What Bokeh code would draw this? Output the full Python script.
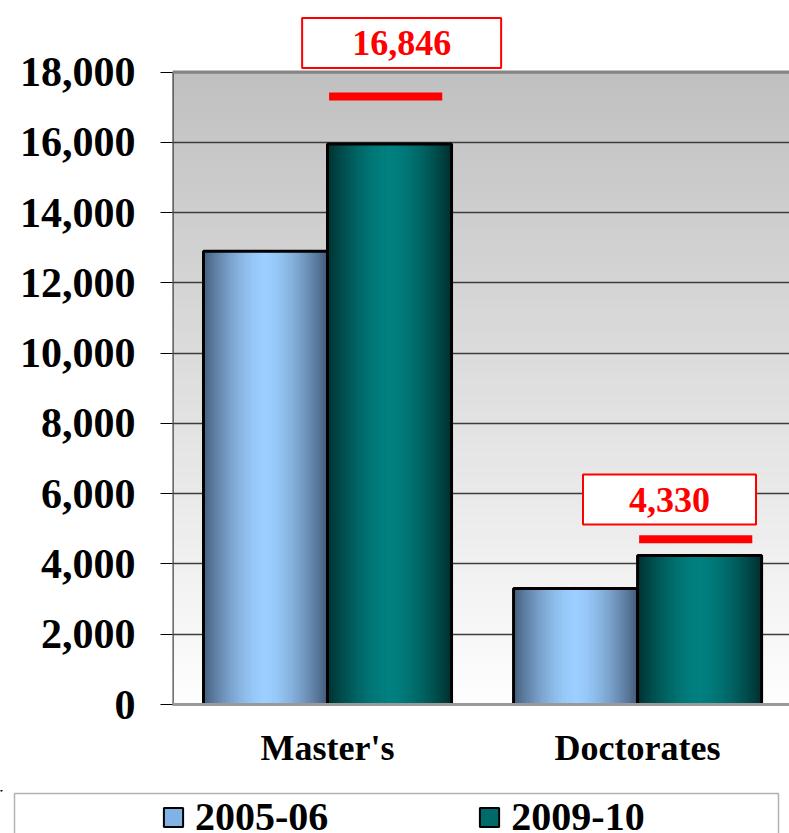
import numpy as np
from bokeh.plotting import figure
from bokeh.models import (Range1d, FixedTicker, NumeralTickFormatter, Span, Label,
                          Legend, LegendItem, BoxAnnotation)
from bokeh.embed import file_html
from bokeh.resources import INLINE

# ---------------- data ----------------
categories = ["Master's", "Doctorates"]
years = ["2005-06", "2009-10"]
values_2005_06 = [12900, 3300]
values_2009_10 = [15950, 4240]
target_markers = [17300, 4700]
target_labels = ["16,846", "4,330"]
y_ticks = [0, 2000, 4000, 6000, 8000, 10000, 12000, 14000, 16000, 18000]

# ---------------- layout / style ----------------
FONT = "Liberation Serif"
BAR_W = 0.4
OFFSETS = [-0.2, 0.2]
Y_TOP = 18000
label_pos = [(0.239, 18825), (1.103, 5834)]
label_pad = [(50, 13), (46, 13)]


def mix(c1, c2, t):
    return "#%02x%02x%02x" % tuple(int(round(a + (b - a) * t)) for a, b in zip(c1, c2))


def bar_colour(edge, peak, t):
    d = abs(t - 0.5) / 0.5
    f = max(0.0, 1 - d ** 1.6)
    return mix(edge, peak, f)


grad = {
    0: ((0x45, 0x5c, 0x7c), (0x9c, 0xcf, 0xff)),
    1: ((0x00, 0x30, 0x30), (0x00, 0x80, 0x80)),
}
mid_cols = ["#82b2e4", "#006a6a"]

p = figure(width=789, height=790, x_range=Range1d(-0.5, 1.49), y_range=Range1d(0, 20035),
           output_backend="svg", toolbar_location=None,
           min_border_left=172, min_border_right=0, min_border_top=0, min_border_bottom=86)
p.outline_line_color = None
p.background_fill_color = "white"
p.border_fill_color = "white"

# gradient background of the plot area (up to the top tick)
n_bg = 80
edges = np.linspace(0, Y_TOP, n_bg + 1)
bg_cols = [mix((0xfe, 0xfe, 0xfe), (0xc0, 0xc0, 0xc0), (e0 + e1) / 2 / Y_TOP)
           for e0, e1 in zip(edges[:-1], edges[1:])]
bg = p.quad(left=p.x_range.start, right=p.x_range.end, bottom=edges[:-1], top=edges[1:],
            fill_color=bg_cols, line_color=bg_cols, line_width=1)
bg.level = "image"

# bars: horizontal gradient strips + outline
N = 62
series = [values_2005_06, values_2009_10]
for s, vals in enumerate(series):
    xs_c = [i + OFFSETS[s] for i in range(len(vals))]
    edge, peak = grad[s]
    for i, v in enumerate(vals):
        c = xs_c[i]
        xs = np.linspace(c - BAR_W / 2, c + BAR_W / 2, N + 1)
        cols = [bar_colour(edge, peak, (k + 0.5) / N) for k in range(N)]
        p.quad(left=xs[:-1], right=xs[1:], bottom=0, top=v, fill_color=cols,
               line_color=cols, line_width=1.2)
    p.vbar(x=xs_c, width=BAR_W, top=vals, bottom=0,
           fill_color=None, line_color="black", line_width=3)

# target markers
p.segment(x0=[i + 0.005 for i in range(len(categories))], y0=target_markers,
          x1=[i + 0.37 for i in range(len(categories))], y1=target_markers,
          line_color="#ff0000", line_width=8)

for (lx, ly), txt, pad in zip(label_pos, target_labels, label_pad):
    p.add_layout(Label(x=lx, y=ly, text=txt, text_align="center", text_baseline="middle",
                       text_color="#ff0000", text_font=FONT, text_font_style="bold",
                       text_font_size="36px", border_line_color="#ff0000", border_line_width=2,
                       background_fill_color="white", padding=pad))

# top border of plot area and left axis line (only up to the top tick)
p.add_layout(Span(location=Y_TOP, dimension="width", line_color="#858585", line_width=3))
p.segment(x0=[p.x_range.start], y0=[0], x1=[p.x_range.start], y1=[Y_TOP],
          line_color="#444444", line_width=2.5)

# grid
p.xgrid.visible = False
p.ygrid.grid_line_color = "#3c3c3c"
p.ygrid.grid_line_width = 1.3

# y axis
p.yaxis.ticker = FixedTicker(ticks=y_ticks)
p.yaxis.formatter = NumeralTickFormatter(format="0,0")
p.yaxis.major_label_text_font = FONT
p.yaxis.major_label_text_font_style = "bold"
p.yaxis.major_label_text_font_size = "42px"
p.yaxis.major_label_text_color = "black"
p.yaxis.major_tick_out = 12
p.yaxis.major_tick_in = 0
p.yaxis.minor_tick_line_color = None
p.yaxis.major_tick_line_color = "black"
p.yaxis.axis_line_color = None
p.yaxis.major_label_standoff = 25

# x axis
p.xaxis.ticker = FixedTicker(ticks=list(range(len(categories))))
p.xaxis.major_label_overrides = {i: c for i, c in enumerate(categories)}
p.xaxis.major_label_text_font = FONT
p.xaxis.major_label_text_font_style = "bold"
p.xaxis.major_label_text_font_size = "36px"
p.xaxis.major_label_text_color = "black"
p.xaxis.major_tick_line_color = None
p.xaxis.minor_tick_line_color = None
p.xaxis.axis_line_color = "#9a9a9a"
p.xaxis.axis_line_width = 3
p.xaxis.major_label_standoff = 17

# ---------------- legend strip (separate root, frame = whole strip) ----------------
p2 = figure(width=789, height=43, x_range=Range1d(0, 789), y_range=Range1d(-100, -57),
            output_backend="svg", toolbar_location=None, min_border=0,
            x_axis_location=None, y_axis_location=None)
p2.grid.visible = False
p2.outline_line_color = None
p2.background_fill_color = "white"
p2.border_fill_color = "white"
p2.add_layout(BoxAnnotation(left=14, right=778, top=-60, bottom=-140, fill_color=None,
                            fill_alpha=0, line_color="black", line_width=1.5))
# swatch renderers: same series data, lying outside this strip's visible range
swatches = []
for s, vals in enumerate(series):
    swatches.append(p2.vbar(x=[i + OFFSETS[s] for i in range(len(vals))], width=BAR_W,
                            top=vals, bottom=0, fill_color=mid_cols[s],
                            line_color="black", line_width=2))
items = [LegendItem(label=yr, renderers=[r]) for yr, r in zip(years, swatches)]
legend = Legend(items=items, location=(161, -7), orientation="horizontal", padding=0,
                margin=0, spacing=149, glyph_width=24, glyph_height=24, label_standoff=10,
                label_text_font=FONT, label_text_font_size="40px",
                label_text_font_style="bold", label_text_color="black",
                border_line_color=None, background_fill_alpha=0)
p2.add_layout(legend)

open("out.html", "w").write(file_html([p, p2], INLINE))
